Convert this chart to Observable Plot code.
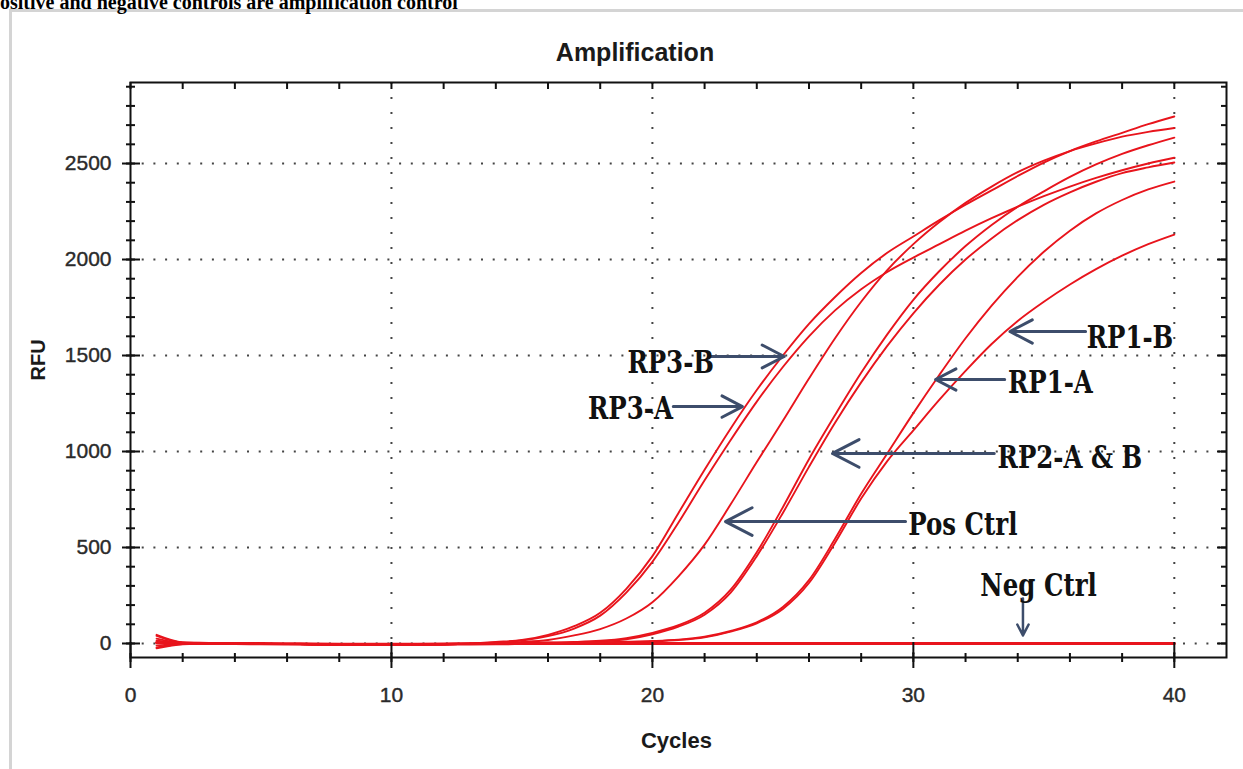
<!DOCTYPE html>
<html><head><meta charset="utf-8">
<script src="https://cdn.jsdelivr.net/npm/d3@7"></script>
<script src="https://cdn.jsdelivr.net/npm/@observablehq/plot@0.6"></script>
<style>
html,body{margin:0;padding:0;background:#fff;width:1243px;height:769px;overflow:hidden;position:relative;}
#chart{position:absolute;left:0;top:0;}
#panel{position:absolute;left:9px;top:9px;width:1240px;height:770px;border-left:3px solid #d4d4d4;border-top:3px solid #d4d4d4;box-sizing:border-box;pointer-events:none;}
#header{position:absolute;left:0px;top:-9px;font-family:"Liberation Serif";font-weight:bold;font-size:20px;white-space:nowrap;color:#000;}
#title{position:absolute;left:435px;width:400px;top:38px;text-align:center;font-family:"Liberation Sans";font-weight:bold;font-size:25px;color:#1a1a1a;}
</style>
</head><body>
<div id="chart"></div>
<div id="panel"></div>
<div id="header">ositive and negative controls are amplification control</div>
<div id="title">Amplification</div>
<script>
// ---- data ----
const cycles = d3.range(1, 41);
const rp3B = [40,5,2,0,-2,-3,-4,-6,-8,-8,-6,-4,0,8,18,45,90,160,285,455,680,905,1120,1320,1500,1665,1805,1930,2035,2120,2205,2285,2360,2435,2505,2565,2615,2660,2705,2745];
const rp3A = [-20,-3,0,-1,-2,-3,-5,-6,-7,-7,-6,-4,-1,6,15,38,78,145,265,425,630,850,1060,1260,1440,1600,1735,1845,1935,2010,2080,2150,2215,2275,2330,2380,2425,2465,2500,2530];
const posCtrl = [25,2,0,-1,-2,-3,-4,-5,-6,-6,-5,-3,-1,3,8,18,42,75,130,215,350,515,725,945,1160,1380,1590,1780,1945,2080,2195,2295,2380,2455,2515,2565,2605,2640,2665,2685];
const rp2A = [-10,-2,0,-1,-2,-3,-4,-5,-6,-6,-5,-4,-2,0,2,5,8,14,28,55,95,160,280,475,710,960,1190,1410,1610,1790,1940,2070,2180,2275,2355,2430,2495,2550,2595,2635];
const rp2B = [45,6,1,0,-2,-3,-4,-5,-6,-6,-5,-4,-2,0,2,4,6,11,22,48,88,150,265,455,680,920,1150,1360,1550,1720,1870,2000,2110,2205,2285,2350,2405,2450,2480,2505];
const rp1A = [-25,-4,0,-1,-2,-3,-4,-5,-6,-6,-5,-4,-3,-1,0,2,4,6,9,13,20,35,65,110,190,330,545,780,990,1200,1400,1590,1760,1910,2040,2150,2240,2310,2365,2406];
const rp1B = [15,3,0,-1,-2,-3,-4,-5,-6,-6,-5,-4,-3,-1,0,2,3,5,7,11,18,32,62,105,180,315,525,755,950,1110,1270,1420,1560,1680,1780,1870,1950,2020,2080,2130];
const negCtrl = [5,1,0,0,-1,-2,-3,-4,-5,-5,-4,-3,-2,-1,0,0,0,0,0,0,0,0,0,0,0,0,0,0,0,0,0,0,0,0,0,0,0,0,0,0];

const seriesNames = ["RP3-B","RP3-A","Pos Ctrl","RP2-A","RP2-B","RP1-A","RP1-B"];
const seriesValues = [rp3B, rp3A, posCtrl, rp2A, rp2B, rp1A, rp1B];

const xTickLabels = [0, 10, 20, 30, 40];
const xGridLines = [10, 20, 30, 40];
const yTickLabels = [0, 500, 1000, 1500, 2000, 2500];
const xMinorTicks = d3.range(0, 42, 2);
const yMinorTicks = d3.range(0, 2901, 100);

// annotations: label text and arrow (x1,y1 -> x2,y2) in data units
const annLabels = [
  {text: "RP3-B", x: 20.7, y: 1463},
  {text: "RP3-A", x: 19.16, y: 1224},
  {text: "RP1-B", x: 38.3, y: 1594},
  {text: "RP1-A", x: 35.25, y: 1359},
  {text: "RP2-A & B", x: 36.0, y: 969},
  {text: "Pos Ctrl", x: 31.9, y: 620},
  {text: "Neg Ctrl", x: 34.8, y: 302}
];
const annArrows = [
  {x1: 22.2, y1: 1495, x2: 25.05, y2: 1495},
  {x1: 20.8, y1: 1234, x2: 23.45, y2: 1234},
  {x1: 36.6, y1: 1625, x2: 33.7, y2: 1625},
  {x1: 33.5, y1: 1375, x2: 30.85, y2: 1375},
  {x1: 33.1, y1: 990, x2: 26.9, y2: 990},
  {x1: 29.7, y1: 635, x2: 22.8, y2: 635}
];
const negArrow = [{x1: 34.2, y1: 234, x2: 34.2, y2: 42}];

// ---- build tables ----
const rows = [];
seriesNames.forEach((name, k) => cycles.forEach((c, i) => rows.push({series: name, cycle: c, rfu: seriesValues[k][i]})));
const negRows = cycles.map((c, i) => ({series: "Neg Ctrl", cycle: c, rfu: negCtrl[i]}));

const red = "#e8141c";
const arrowColor = "#3d4d6b";
const FW = 1096; // frame width in px
const FH = 575;  // frame height in px

const plot = Plot.plot({
  width: 1243,
  height: 769,
  marginLeft: 130,
  marginRight: 17,
  marginTop: 82,
  marginBottom: 112,
  style: {background: "transparent", overflow: "visible"},
  x: {domain: [0, 42], axis: null},
  y: {domain: [-73, 2922], axis: null},
  marks: [
    // grid
    Plot.ruleY(yTickLabels, {y: d => d, stroke: "#444", strokeWidth: 2, strokeDasharray: "2,9.7"}),
    Plot.ruleX(xGridLines, {x: d => d, stroke: "#444", strokeWidth: 2, strokeDasharray: "2,13"}),
    // curves
    Plot.line(negRows, {x: "cycle", y: "rfu", stroke: red, strokeWidth: 3.2, curve: "monotone-x"}),
    Plot.line(rows, {x: "cycle", y: "rfu", z: "series", stroke: red, strokeWidth: 1.9, curve: "monotone-x"}),
    // frame
    Plot.frame({stroke: "#111", strokeWidth: 2}),
    // bottom axis ticks (crossing)
    Plot.ruleX(xTickLabels, {x: d => d, stroke: "#111", strokeWidth: 2, insetTop: FH - 15, insetBottom: -11}),
    Plot.ruleX(xMinorTicks, {x: d => d, stroke: "#111", strokeWidth: 2, insetTop: FH - 4, insetBottom: -5}),
    // top ticks (inside)
    Plot.ruleX(xMinorTicks, {x: d => d, stroke: "#111", strokeWidth: 2, insetTop: 0, insetBottom: FH - 7}),
    // left axis ticks (crossing)
    Plot.ruleY(yTickLabels, {y: d => d, stroke: "#111", strokeWidth: 2, insetLeft: -8, insetRight: FW - 10}),
    Plot.ruleY(yMinorTicks, {y: d => d, stroke: "#111", strokeWidth: 2, insetLeft: -4, insetRight: FW - 5}),
    // right ticks (inside)
    Plot.ruleY(yMinorTicks, {y: d => d, stroke: "#111", strokeWidth: 2, insetLeft: FW - 5, insetRight: 0}),
    Plot.ruleY(yTickLabels, {y: d => d, stroke: "#111", strokeWidth: 2, insetLeft: FW - 9, insetRight: 0}),
    // tick labels
    Plot.text(xTickLabels, {x: d => d, frameAnchor: "bottom", dy: 38, text: d => String(d), fontFamily: "Liberation Sans", fontSize: 21, fill: "#2a2a2a", stroke: "#2a2a2a", strokeWidth: 0.4, lineAnchor: "middle"}),
    Plot.text(yTickLabels, {y: d => d, frameAnchor: "left", dx: -19, textAnchor: "end", text: d => String(d), fontFamily: "Liberation Sans", fontSize: 21, fill: "#2a2a2a", stroke: "#2a2a2a", strokeWidth: 0.4, lineAnchor: "middle"}),
    // axis labels
    Plot.text(["Cycles"], {x: () => 20.92, frameAnchor: "bottom", dy: 83, text: d => d, fontFamily: "Liberation Sans", fontWeight: "bold", fontSize: 22, fill: "#1a1a1a", lineAnchor: "middle"}),
    Plot.text(["RFU"], {y: () => 1370, frameAnchor: "left", dx: -92, rotate: -90, text: d => d, fontFamily: "Liberation Sans", fontWeight: "bold", fontSize: 20, fill: "#1a1a1a", lineAnchor: "middle"}),
    // annotations
    Plot.arrow(annArrows, {x1: "x1", y1: "y1", x2: "x2", y2: "y2", stroke: arrowColor, strokeWidth: 3, headLength: 15, headAngle: 55}),
    Plot.arrow(negArrow, {x1: "x1", y1: "y1", x2: "x2", y2: "y2", stroke: arrowColor, strokeWidth: 2.5, headLength: 11, headAngle: 55}),
    Plot.text(annLabels, {x: "x", y: "y", text: "text", fontFamily: "DejaVu Serif Condensed, DejaVu Serif", fontWeight: "bold", fontSize: 32, fill: "#111", lineAnchor: "middle"})
  ]
});
document.getElementById("chart").appendChild(plot);

// horizontally condense the annotation labels, as in the reference
const annNames = annLabels.map(d => d.text);
d3.select(plot).selectAll("text").each(function() {
  if (!annNames.includes(this.textContent)) return;
  this.style.fontStretch = "condensed";
  const t = this.getAttribute("transform");
  if (t) this.setAttribute("transform", t + " scale(0.85,1)");
  else {
    const x = +this.getAttribute("x") || 0, y = +this.getAttribute("y") || 0;
    this.setAttribute("transform", `translate(${x},${y}) scale(0.85,1) translate(${-x},${-y})`);
  }
});
</script>
</body></html>
